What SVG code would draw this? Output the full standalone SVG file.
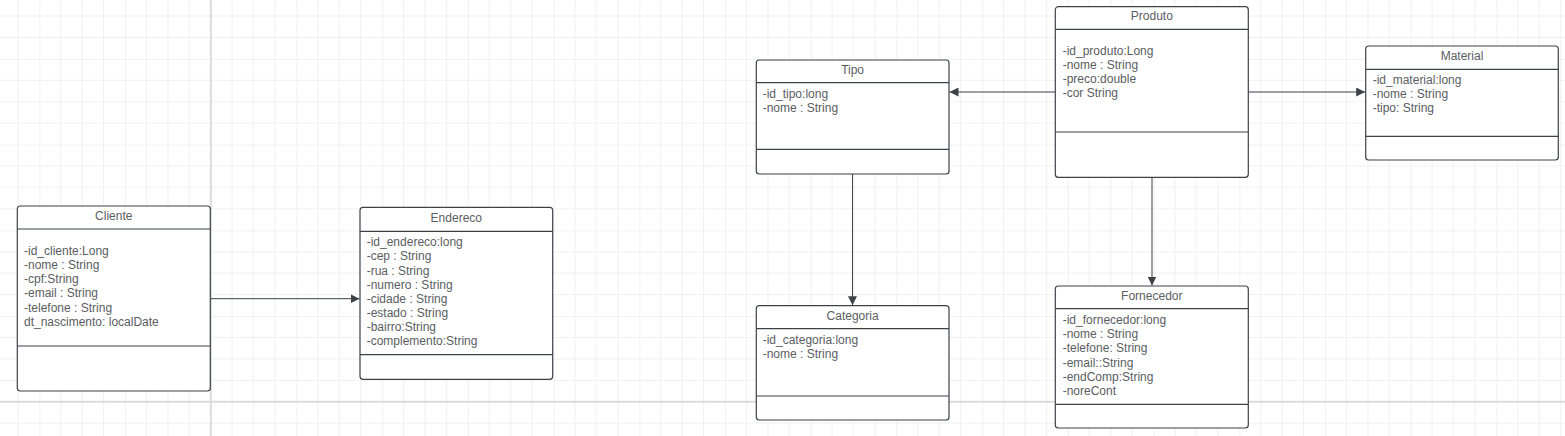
<svg xmlns="http://www.w3.org/2000/svg" width="1565" height="436" viewBox="0 0 1565 436">
<style>
.box{fill:#ffffff;stroke:#3d4249;stroke-width:1.2}
.div{stroke:#3d4249;stroke-width:1.2}
.t{font-family:"Liberation Sans",Arial,sans-serif;font-size:12px;fill:#5a5d62}
.ttl{text-anchor:middle}
.conn{stroke:#3d4249;stroke-width:1;fill:none}
</style>
<defs>
<pattern id="grid" patternUnits="userSpaceOnUse" x="39.3" y="58.9" width="85.714" height="85.714">
<path d="M21.43 0V85.714M42.857 0V85.714M64.286 0V85.714M0 21.43H85.714M0 42.857H85.714M0 64.286H85.714" stroke="#f0f0f0" stroke-width="1"/>
<path d="M0 0V85.714M0 0H85.714" stroke="#e4e4e4" stroke-width="1"/>
</pattern>
<marker id="arr" viewBox="0 0 10 10" refX="10" refY="5" markerWidth="9" markerHeight="9" markerUnits="userSpaceOnUse" orient="auto">
<path d="M0 0L10 5L0 10Z" fill="#3d4249"/>
</marker>
</defs>
<rect width="1565" height="436" fill="#ffffff"/>
<rect width="1565" height="436" fill="url(#grid)"/>
<line x1="210.8" y1="0" x2="210.8" y2="436" stroke="#dcdcdc" stroke-width="2"/>
<line x1="0" y1="401.8" x2="1565" y2="401.8" stroke="#dcdcdc" stroke-width="2"/>

<g id="connectors">
<line class="conn" x1="210.3" y1="298.7" x2="359.5" y2="298.7" marker-end="url(#arr)"/>
<line class="conn" x1="1055.3" y1="92" x2="949.5" y2="92" marker-end="url(#arr)"/>
<line class="conn" x1="1248.3" y1="92" x2="1365.2" y2="92" marker-end="url(#arr)"/>
<line class="conn" x1="852.5" y1="174" x2="852.5" y2="305.2" marker-end="url(#arr)"/>
<line class="conn" x1="1152" y1="177.3" x2="1152" y2="285.5" marker-end="url(#arr)"/>
</g>

<g id="cliente">
<rect class="box" x="17.3" y="206" width="193" height="185" rx="3"/>
<line class="div" x1="17.3" y1="229" x2="210.3" y2="229"/>
<line class="div" x1="17.3" y1="346" x2="210.3" y2="346"/>
<text class="t ttl" x="113.8" y="220">Cliente</text>
<text class="t" x="24" y="254.5">-id_cliente:Long</text>
<text class="t" x="24" y="268.8">-nome : String</text>
<text class="t" x="24" y="283.1">-cpf:String</text>
<text class="t" x="24" y="297.4">-email : String</text>
<text class="t" x="24" y="311.7">-telefone : String</text>
<text class="t" x="24" y="326">dt_nascimento: localDate</text>
</g>

<g id="endereco">
<rect class="box" x="360" y="207.3" width="192.7" height="172" rx="3"/>
<line class="div" x1="360" y1="231.3" x2="552.7" y2="231.3"/>
<line class="div" x1="360" y1="354.7" x2="552.7" y2="354.7"/>
<text class="t ttl" x="456.3" y="221.7">Endereco</text>
<text class="t" x="366.7" y="246.3">-id_endereco:long</text>
<text class="t" x="366.7" y="260.4">-cep : String</text>
<text class="t" x="366.7" y="274.6">-rua : String</text>
<text class="t" x="366.7" y="288.7">-numero : String</text>
<text class="t" x="366.7" y="302.9">-cidade : String</text>
<text class="t" x="366.7" y="317">-estado : String</text>
<text class="t" x="366.7" y="331.2">-bairro:String</text>
<text class="t" x="366.7" y="345.3">-complemento:String</text>
</g>

<g id="tipo">
<rect class="box" x="756.3" y="60" width="192.7" height="114" rx="3"/>
<line class="div" x1="756.3" y1="82.7" x2="949" y2="82.7"/>
<line class="div" x1="756.3" y1="149.3" x2="949" y2="149.3"/>
<text class="t ttl" x="852.6" y="74">Tipo</text>
<text class="t" x="762.7" y="97.7">-id_tipo:long</text>
<text class="t" x="762.7" y="112">-nome : String</text>
</g>

<g id="categoria">
<rect class="box" x="756.3" y="305.7" width="192.7" height="114.3" rx="3"/>
<line class="div" x1="756.3" y1="328.7" x2="949" y2="328.7"/>
<line class="div" x1="756.3" y1="396" x2="949" y2="396"/>
<text class="t ttl" x="852.6" y="320">Categoria</text>
<text class="t" x="762.7" y="344">-id_categoria:long</text>
<text class="t" x="762.7" y="358">-nome : String</text>
</g>

<g id="produto">
<rect class="box" x="1055.3" y="6.7" width="193" height="170.6" rx="3"/>
<line class="div" x1="1055.3" y1="29.3" x2="1248.3" y2="29.3"/>
<line class="div" x1="1055.3" y1="132" x2="1248.3" y2="132"/>
<text class="t ttl" x="1151.8" y="20.3">Produto</text>
<text class="t" x="1062.7" y="55">-id_produto:Long</text>
<text class="t" x="1062.7" y="69">-nome : String</text>
<text class="t" x="1062.7" y="83.2">-preco:double</text>
<text class="t" x="1062.7" y="97.4">-cor String</text>
</g>

<g id="fornecedor">
<rect class="box" x="1055.3" y="286" width="193" height="142" rx="3"/>
<line class="div" x1="1055.3" y1="308.7" x2="1248.3" y2="308.7"/>
<line class="div" x1="1055.3" y1="404.3" x2="1248.3" y2="404.3"/>
<text class="t ttl" x="1151.8" y="300">Fornecedor</text>
<text class="t" x="1062.7" y="324">-id_fornecedor:long</text>
<text class="t" x="1062.7" y="338.2">-nome : String</text>
<text class="t" x="1062.7" y="352.4">-telefone: String</text>
<text class="t" x="1062.7" y="366.6">-email::String</text>
<text class="t" x="1062.7" y="380.8">-endComp:String</text>
<text class="t" x="1062.7" y="395">-noreCont</text>
</g>

<g id="material">
<rect class="box" x="1365.7" y="46" width="192.6" height="114" rx="3"/>
<line class="div" x1="1365.7" y1="69.3" x2="1558.3" y2="69.3"/>
<line class="div" x1="1365.7" y1="136.3" x2="1558.3" y2="136.3"/>
<text class="t ttl" x="1462" y="60">Material</text>
<text class="t" x="1372.7" y="84">-id_material:long</text>
<text class="t" x="1372.7" y="98.2">-nome : String</text>
<text class="t" x="1372.7" y="112.4">-tipo: String</text>
</g>
</svg>
